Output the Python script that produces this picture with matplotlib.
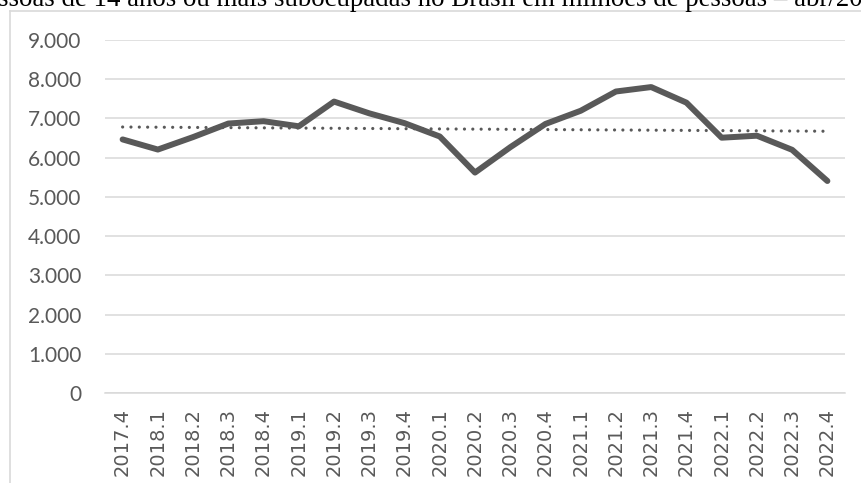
import numpy as np
import matplotlib
matplotlib.use("Agg")
import matplotlib.pyplot as plt
from matplotlib.ticker import FuncFormatter, MultipleLocator
from matplotlib.lines import Line2D

# pessoas subocupadas, em milhares, por trimestre
quarters = ["2017.4", "2018.1", "2018.2", "2018.3", "2018.4", "2019.1", "2019.2",
            "2019.3", "2019.4", "2020.1", "2020.2", "2020.3", "2020.4", "2021.1",
            "2021.2", "2021.3", "2021.4", "2022.1", "2022.2", "2022.3", "2022.4"]
subocupados = [6465, 6207, 6525, 6870, 6930, 6800, 7430, 7130, 6880, 6540, 5620,
               6266, 6860, 7196, 7687, 7800, 7403, 6509, 6560, 6200, 5405]
title_text = "ssoas de 14 anos ou mais subocupadas no Brasil em milhões de pessoas – abr/20"

W, H = 862, 483
fig = plt.figure(figsize=(W / 100, H / 100), dpi=100)
ax = fig.add_axes([105 / W, (H - 393) / H, 740 / W, 353 / H])

x = np.arange(len(quarters))
grey = "#595959"
grid = "#d9d9d9"

ax.plot(x, subocupados, color=grey, lw=4.3, solid_capstyle="round",
        solid_joinstyle="round", zorder=3)

# linha de tendência linear
coef = np.polyfit(x, subocupados, 1)
trend = np.polyval(coef, x)
ax.plot(x, trend, color=grey, lw=2.3, linestyle=(0, (0.01, 2.6)),
        dash_capstyle="round", zorder=2)

ax.set_xlim(-0.5, len(quarters) - 0.5)
ax.set_ylim(0, 9000)
ax.yaxis.set_major_locator(MultipleLocator(1000))
ax.yaxis.set_major_formatter(FuncFormatter(lambda v, p: f"{v:,.0f}".replace(",", ".")))
ax.grid(axis="y", color=grid, lw=1.1, zorder=0)
ax.set_axisbelow(True)

ax.set_xticks(x)
ax.set_xticklabels(quarters, rotation=90, fontsize=14, color=grey,
                   family="DejaVu Sans")
for lab in ax.get_yticklabels():
    lab.set_fontfamily("Lato")
    lab.set_fontsize(15)
    lab.set_color(grey)
ax.tick_params(axis="y", length=0, pad=17)
ax.tick_params(axis="x", length=0, pad=11)

for s in ["top", "right", "left"]:
    ax.spines[s].set_visible(False)
ax.spines["bottom"].set_color(grid)
ax.spines["bottom"].set_linewidth(1.1)

# moldura da área do gráfico
fig.add_artist(Line2D([10 / W, 10 / W], [0, 1 - 11 / H], color=grid, lw=1.2))
fig.add_artist(Line2D([10 / W, 1], [1 - 11 / H, 1 - 11 / H], color=grid, lw=1.2))

fig.text(-2 / W, 1 - 6 / H, title_text, fontsize=19.4, family="Liberation Serif",
         color="black", ha="left", va="baseline")

fig.savefig("out.png", dpi=100)
